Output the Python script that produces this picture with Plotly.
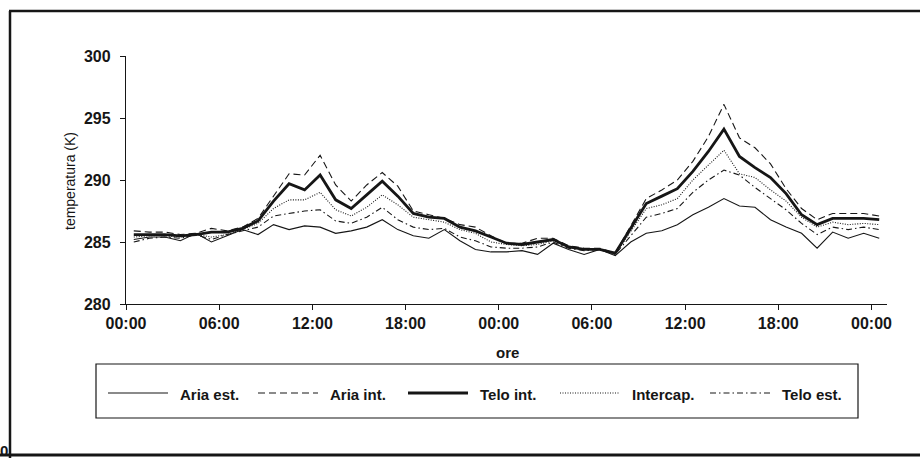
import plotly.graph_objects as go

hours = list(range(49))
tick_hours = [0, 6, 12, 18, 24, 30, 36, 42, 48]
tick_labels = ["00:00", "06:00", "12:00", "18:00", "00:00", "06:00", "12:00", "18:00", "00:00"]

aria_est = [285.2, 285.4, 285.4, 285.1, 285.7, 285.0, 285.5, 286.0, 285.6, 286.4,
            286.0, 286.3, 286.2, 285.7, 285.9, 286.2, 286.8, 286.0, 285.5, 285.3,
            286.0, 285.1, 284.4, 284.2, 284.2, 284.3, 284.0, 284.9, 284.4, 284.0,
            284.4, 283.9, 285.0, 285.7, 285.9, 286.4, 287.2, 287.8, 288.5, 287.9,
            287.8, 286.8, 286.2, 285.7, 284.5, 285.8, 285.3, 285.7, 285.3]
aria_int = [285.9, 285.8, 285.8, 285.6, 285.7, 286.1, 285.9, 286.2, 286.9, 288.7,
            290.5, 290.4, 292.0, 289.6, 288.3, 289.6, 290.6, 289.5, 287.5, 287.2,
            286.9, 286.4, 286.2, 285.5, 284.9, 284.9, 285.3, 285.3, 284.7, 284.5,
            284.5, 284.1, 286.3, 288.5, 289.2, 290.0, 291.5, 293.5, 296.1, 293.4,
            292.6, 291.3, 289.3, 287.7, 286.8, 287.3, 287.3, 287.3, 287.1]
telo_int = [285.6, 285.6, 285.6, 285.5, 285.6, 285.8, 285.8, 286.1, 286.7, 288.3,
            289.7, 289.2, 290.4, 288.4, 287.7, 288.8, 289.9, 288.7, 287.3, 287.0,
            286.9, 286.2, 285.9, 285.4, 284.9, 284.8, 285.0, 285.2, 284.6, 284.4,
            284.4, 284.1, 286.1, 288.1, 288.7, 289.3, 290.7, 292.3, 294.1, 291.9,
            291.0, 290.2, 288.9, 287.2, 286.4, 286.9, 286.9, 286.9, 286.8]
intercap = [285.4, 285.5, 285.5, 285.4, 285.6, 285.4, 285.6, 286.0, 286.5, 287.7,
            288.4, 288.4, 289.0, 287.6, 287.1, 287.8, 288.8, 288.0, 287.0, 286.8,
            286.6, 286.0, 285.7, 285.0, 284.8, 284.7, 284.8, 285.1, 284.6, 284.4,
            284.4, 284.0, 285.9, 287.7, 288.0, 288.5, 290.0, 291.2, 292.4, 290.5,
            290.2, 289.2, 288.3, 287.0, 286.2, 286.6, 286.4, 286.5, 286.4]
telo_est = [285.0, 285.3, 285.4, 285.3, 285.6, 285.2, 285.6, 285.9, 286.2, 287.1,
            287.3, 287.5, 287.6, 286.7, 286.5, 287.0, 287.8, 286.8, 286.2, 286.0,
            286.1, 285.4, 285.1, 284.6, 284.5, 284.5, 284.6, 285.0, 284.5, 284.3,
            284.4, 284.0, 285.5, 287.0, 287.3, 287.7, 289.0, 290.0, 290.8, 290.4,
            289.4, 288.5, 287.6, 286.5, 285.6, 286.2, 286.0, 286.2, 286.0]

names = ["Aria est.", "Aria int.", "Telo int.", "Intercap.", "Telo est."]
values = [aria_est, aria_int, telo_int, intercap, telo_est]

INK = "#161616"
styles = {
    "Aria est.": dict(width=1.1, dash="solid"),
    "Aria int.": dict(width=1.1, dash="7px,4px"),
    "Telo int.": dict(width=2.8, dash="solid"),
    "Intercap.": dict(width=1.1, dash="1px,1.5px"),
    "Telo est.": dict(width=1.1, dash="6px,3px,1.5px,3px"),
}

# points sit at the centre of each hourly slot
xpos = [h + 0.5 for h in hours]

fig = go.Figure()
for name, vals in zip(names, values):
    fig.add_trace(go.Scatter(x=xpos, y=vals, name=name, mode="lines",
                             line=dict(color=INK, **styles[name]), showlegend=False))

FONT = "Liberation Sans, Arial, sans-serif"
L, R, T, B = 126, 33, 56, 155
W, H = 920, 459
pw, ph = W - L - R, H - T - B


def px(xp):
    return (xp - L) / pw


def py(yp):
    return (H - B - yp) / ph


tickfont = dict(size=16, family=FONT, color=INK, weight="bold")

fig.update_layout(
    width=W, height=H,
    margin=dict(l=L, r=R, t=T, b=B),
    paper_bgcolor="white", plot_bgcolor="white",
    font=dict(family=FONT, color=INK, size=15),
    showlegend=False,
    xaxis=dict(range=[0, 49], tickvals=tick_hours, ticktext=tick_labels,
               showgrid=False, zeroline=False, showline=True, linecolor=INK,
               linewidth=1.3, ticks="outside", ticklen=5, tickcolor=INK,
               ticklabelstandoff=0, tickfont=tickfont),
    yaxis=dict(range=[280, 300], tickvals=[280, 285, 290, 295, 300],
               showgrid=False, zeroline=False, showline=True, linecolor=INK,
               linewidth=1.3, ticks="outside", ticklen=5, tickcolor=INK,
               ticklabelstandoff=6, tickfont=tickfont),
)

# axis titles
fig.add_annotation(text="ore", xref="paper", yref="paper", x=px(507), y=py(352),
                   xanchor="center", yanchor="middle", showarrow=False,
                   font=dict(size=15, family=FONT, color=INK, weight="bold"))
fig.add_annotation(text="temperatura (K)", xref="paper", yref="paper", x=px(70), y=py(181),
                   xanchor="center", yanchor="middle", showarrow=False, textangle=-90,
                   font=dict(size=14, family=FONT, color=INK))
# page number fragment
fig.add_annotation(text="0", xref="paper", yref="paper", x=px(4), y=py(450),
                   xanchor="center", yanchor="middle", showarrow=False,
                   font=dict(size=15, family=FONT, color=INK, weight="bold"))

# legend box with line samples and labels
fig.add_shape(type="rect", xref="paper", yref="paper", x0=px(96), x1=px(858),
              y0=py(418), y1=py(364), line=dict(color=INK, width=1.2))
sample_x0 = [108, 258, 408, 560, 710]
sample_len = 60
text_gap = 10
for name, sx in zip(names, sample_x0):
    fig.add_shape(type="line", xref="paper", yref="paper",
                  x0=px(sx), x1=px(sx + sample_len), y0=py(393), y1=py(393),
                  line=dict(color=INK, **styles[name]))
    fig.add_annotation(text=name, xref="paper", yref="paper",
                       x=px(sx + sample_len + text_gap), y=py(394),
                       xanchor="left", yanchor="middle", showarrow=False,
                       font=dict(size=15, family=FONT, color=INK, weight="bold"))

# page frame
fig.add_shape(type="line", xref="paper", yref="paper", x0=px(10), x1=px(10),
              y0=py(11), y1=py(458), line=dict(color=INK, width=2.5))
fig.add_shape(type="line", xref="paper", yref="paper", x0=px(9), x1=px(921),
              y0=py(11), y1=py(11), line=dict(color=INK, width=2.5))
fig.add_shape(type="line", xref="paper", yref="paper", x0=px(0), x1=px(921),
              y0=py(455), y1=py(455), line=dict(color=INK, width=3))

fig.write_html("out.html", config={"displayModeBar": False},
               post_script="document.body.style.margin='0';document.body.style.overflow='hidden';")
